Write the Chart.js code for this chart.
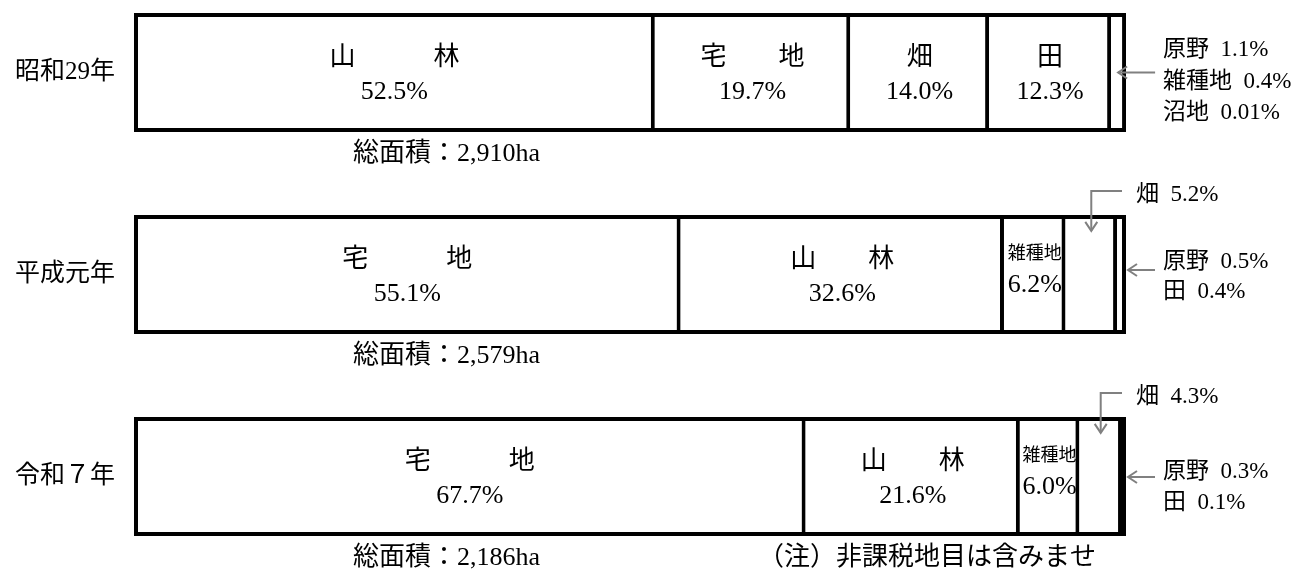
<!DOCTYPE html>
<html>
<head>
<meta charset="utf-8">
<script src="https://cdn.jsdelivr.net/npm/chart.js@4.4.1/dist/chart.umd.min.js"></script>
<style>
  html, body { margin: 0; padding: 0; background: #ffffff; }
  #wrap { width: 1293px; height: 570px; }
</style>
</head>
<body>
<div id="wrap"><canvas id="c" width="1293" height="570"></canvas></div>
<script>
// ---------- data ----------
const years = ['昭和29年', '平成元年', '令和７年'];
const totalAreasHa = ['2,910', '2,579', '2,186'];

const showa29Names  = ['山林', '宅地', '畑', '田', '原野', '雑種地', '沼地'];
const showa29Shares = [52.5, 19.7, 14.0, 12.3, 1.1, 0.4, 0.01];

const heisei1Names  = ['宅地', '山林', '雑種地', '畑', '原野', '田'];
const heisei1Shares = [55.1, 32.6, 6.2, 5.2, 0.5, 0.4];

const reiwa7Names  = ['宅地', '山林', '雑種地', '畑', '原野', '田'];
const reiwa7Shares = [67.7, 21.6, 6.0, 4.3, 0.3, 0.1];

const noteText = '（注）非課税地目は含みませ';

// ---------- assembly ----------
const rows = [
  { names: showa29Names, shares: showa29Shares },
  { names: heisei1Names, shares: heisei1Shares },
  { names: reiwa7Names,  shares: reiwa7Shares }
];

const FONT = '"Liberation Serif", "Noto Sans CJK JP", serif';
const INK = '#000000';
const ARROW = '#808080';

// layout of the small-share callouts on the right (style, not data)
const sideLayout = [
  { lines: [-22.5, 9.5, 40.5], arrowDy: 0,    tipDx: -8 },
  { lines: [-12.5, 17.5],      arrowDy: -4.5, tipDx: 2 },
  { lines: [-4.5, 26.5],       arrowDy: 0.5,  tipDx: 2 }
];

function fmt(v) { return v >= 0.1 ? v.toFixed(1) : v.toFixed(2); }
function spaced(name, v) {
  if (name.length !== 2) return name;
  return name[0] + (v > 40 ? '　　　' : '　　') + name[1];
}

const segCount = Math.max(...rows.map(r => r.shares.length));
const datasets = [];
for (let k = 0; k < segCount; k++) {
  datasets.push({
    label: 'seg' + k,
    data: rows.map(r => (r.shares[k] === undefined ? null : r.shares[k])),
    stack: 'land',
    backgroundColor: '#ffffff',
    borderColor: '#000000',
    borderSkipped: false,
    borderWidth: (ctx) => {
      const r = rows[ctx.dataIndex];
      const v = r ? r.shares[ctx.datasetIndex] : undefined;
      const hasNext = r && r.shares[ctx.datasetIndex + 1] !== undefined;
      return { top: 0, bottom: 0, left: 0, right: (v !== undefined && v >= 2 && hasNext) ? 4 : 0 };
    },
    clip: false,
    order: 1,
    barPercentage: 1,
    categoryPercentage: 0.59
  });
}
datasets.push({
  label: 'frame',
  data: rows.map(r => r.shares.reduce((a, b) => a + b, 0)),
  stack: 'frame',
  grouped: false,
  backgroundColor: 'rgba(0,0,0,0)',
  borderColor: '#000000',
  borderWidth: 4,
  borderSkipped: false,
  clip: false,
  order: 0,
  barPercentage: 1,
  categoryPercentage: 0.59
});

function drawText(ctx, str, x, y, size, align) {
  ctx.save();
  ctx.font = size + 'px ' + FONT;
  ctx.fillStyle = INK;
  ctx.textAlign = align || 'center';
  ctx.textBaseline = 'middle';
  ctx.fillText(str, x, y);
  ctx.restore();
}
function drawPath(ctx, pts) {
  ctx.save();
  ctx.strokeStyle = ARROW;
  ctx.lineWidth = 2;
  ctx.beginPath();
  ctx.moveTo(pts[0][0], pts[0][1]);
  for (let i = 1; i < pts.length; i++) ctx.lineTo(pts[i][0], pts[i][1]);
  ctx.stroke();
  ctx.restore();
}

const annotate = {
  id: 'annotate',
  afterDatasetsDraw(chart) {
    const ctx = chart.ctx;
    const area = chart.chartArea;
    const frameMeta = chart.getDatasetMeta(datasets.length - 1);
    rows.forEach((row, i) => {
      const fe = frameMeta.data[i];
      const barTop = fe.y - fe.height / 2;
      const barBottom = fe.y + fe.height / 2;
      const barRight = Math.max(fe.x, fe.base);
      const side = [];
      row.shares.forEach((v, k) => {
        const el = chart.getDatasetMeta(k).data[i];
        const left = Math.min(el.x, el.base), right = Math.max(el.x, el.base);
        const cx = (left + right) / 2, cy = el.y;
        const name = row.names[k];
        const pct = fmt(v) + '%';
        if (v >= 10) {
          drawText(ctx, spaced(name, v), cx, cy - 14, 26);
          drawText(ctx, pct, cx, cy + 20, 26);
        } else if (v >= 5.5) {
          drawText(ctx, name, cx, cy - 20, 18);
          drawText(ctx, pct, cx, cy + 11, 26);
        } else if (v >= 2) {
          const tx = barRight + 10;
          const ly = barTop - 24;
          const tipY = barTop + 16;
          drawPath(ctx, [[tx - 14, ly], [cx, ly], [cx, tipY]]);
          drawPath(ctx, [[cx - 6, tipY - 9], [cx, tipY], [cx + 6, tipY - 9]]);
          drawText(ctx, name + '  ' + pct, tx, barTop - 20, 23, 'left');
        } else {
          side.push(name + '  ' + pct);
        }
      });
      if (side.length) {
        const lay = sideLayout[i];
        const ay = fe.y + lay.arrowDy;
        const tipX = barRight + lay.tipDx;
        drawPath(ctx, [[barRight + 29, ay], [tipX, ay]]);
        drawPath(ctx, [[tipX + 9, ay - 6], [tipX, ay], [tipX + 9, ay + 6]]);
        side.forEach((s, j) => drawText(ctx, s, barRight + 37, fe.y + lay.lines[j], 23, 'left'));
      }
      drawText(ctx, '総面積：' + totalAreasHa[i] + 'ha', area.left + 219, barBottom + 22, 26, 'left');
      if (i === rows.length - 1) {
        drawText(ctx, noteText, area.left + 624, barBottom + 22, 26, 'left');
      }
    });
  }
};

new Chart(document.getElementById('c'), {
  type: 'bar',
  data: { labels: years, datasets: datasets },
  options: {
    indexAxis: 'y',
    responsive: false,
    animation: false,
    devicePixelRatio: 1,
    layout: { padding: { top: 72.5, bottom: 93.5, left: 0, right: 167 } },
    plugins: { legend: { display: false }, tooltip: { enabled: false } },
    scales: {
      x: { type: 'linear', min: 0, max: 100, stacked: true, display: false },
      y: {
        type: 'category',
        stacked: true,
        offset: false,
        grid: { display: false, drawTicks: false },
        border: { display: false },
        ticks: { autoSkip: false, padding: 19, color: INK, font: { family: FONT, size: 25 } },
        afterFit: (scale) => { scale.width = 134; }
      }
    }
  },
  plugins: [annotate]
});
</script>
</body>
</html>
